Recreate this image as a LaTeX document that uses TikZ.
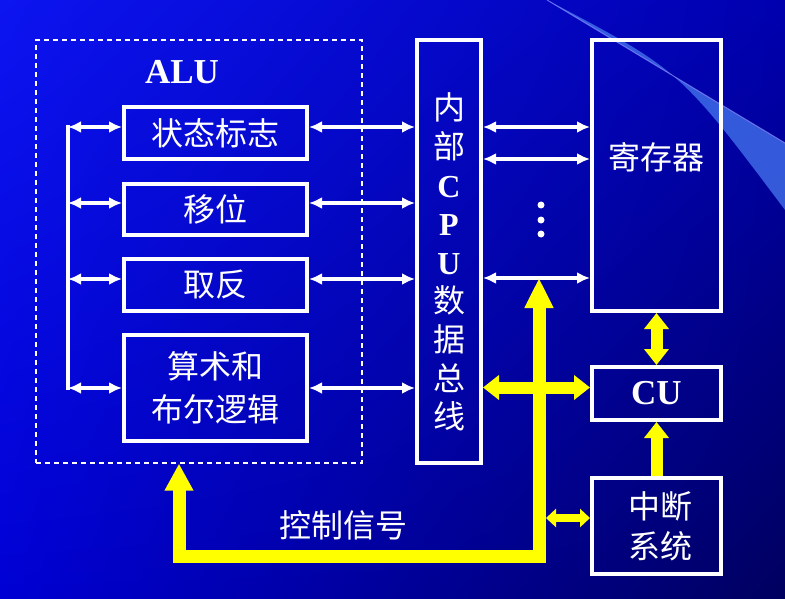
\documentclass[tikz,border=0pt]{standalone}
\usepackage{fontspec}
\setmainfont{Liberation Serif}
\newfontfamily\cjk{Noto Sans CJK SC}
\usetikzlibrary{arrows.meta,shadings}
\definecolor{bgul}{RGB}{12,20,240}
\definecolor{bgur}{RGB}{0,0,175}
\definecolor{bgll}{RGB}{0,0,212}
\definecolor{bglr}{RGB}{0,0,95}
\definecolor{streakc}{RGB}{70,120,240}
\definecolor{ylw}{RGB}{255,255,0}

\begin{document}
\begin{tikzpicture}[x=1pt,y=-1pt,line join=miter,
  box/.style={draw=white,line width=4pt,inner sep=0pt},
  zh/.style={text=white,font=\cjk\fontsize{32}{38.6}\selectfont},
  en/.style={text=white,font=\bfseries\fontsize{35}{40}\selectfont},
  wire/.style={draw=white,line width=3.5pt},
  warr/.style={wire,{Latex[length=13pt,width=12pt]}-{Latex[length=13pt,width=12pt]}},
  ybus/.style={draw=ylw,line width=13pt,{Triangle[length=27pt,width=27pt]}-{Triangle[length=30pt,width=27pt]}},
  ydbl/.style={draw=ylw,line width=12pt,{Triangle[length=16pt,width=24pt]}-{Triangle[length=16pt,width=24pt]}},
  yone/.style={draw=ylw,line width=12pt,-{Triangle[length=16pt,width=24pt]}},
  ysmall/.style={draw=ylw,line width=8pt,{Triangle[length=10pt,width=18pt]}-{Triangle[length=10pt,width=18pt]}},
]
%%
\useasboundingbox (0,0) rectangle (785,599);
\shade[upper left=bgul,upper right=bgur,lower left=bgll,lower right=bglr] (0,0) rectangle (785,599);
\fill[streakc,opacity=0.75] (547,0) -- (785,143) -- (785,210) .. controls (680,70) .. (547,0) -- cycle;
\draw[blue!40!white,opacity=0.6,line width=1pt] (547,0) -- (785,143);
%
\node (alu) at (199,251.5) [draw=white,dashed,line width=1.2pt,dash pattern=on 5pt off 4pt,minimum width=326pt,minimum height=423pt] {};
\node (alutxt) at (182,72) [en] {ALU};
\node (flag) at (215.5,133) [box,minimum width=183pt,minimum height=52pt,zh] {状态标志};
\node (shift) at (215.5,209.5) [box,minimum width=183pt,minimum height=51pt,zh] {移位};
\node (neg) at (215.5,285) [box,minimum width=183pt,minimum height=52pt,zh] {取反};
\node (arith) at (215.5,388) [box,minimum width=183pt,minimum height=106pt,zh,align=center,font=\cjk\fontsize{32}{43}\selectfont] {算术和\\布尔逻辑};
\node (bus) at (449,251.5) [box,minimum width=64pt,minimum height=423pt] {};
\node (bustxt) at (449,262) [zh,align=center] {内\\部\\{\rmfamily\bfseries\fontsize{32}{38.6}\selectfont C}\\{\rmfamily\bfseries\fontsize{32}{38.6}\selectfont P}\\{\rmfamily\bfseries\fontsize{32}{38.6}\selectfont U}\\数\\据\\总\\线};
\node (reg) at (656.5,175.5) [box,minimum width=129pt,minimum height=271pt] {};
\node (regtxt) at (656.5,157) [zh] {寄存器};
\node (cu) at (656.5,393.5) [box,minimum width=129pt,minimum height=53pt,en] {CU};
\node (intr) at (656.5,526) [box,minimum width=129pt,minimum height=96pt,zh,align=center,font=\cjk\fontsize{32}{40}\selectfont] {\hspace*{8pt}中断\\\hspace*{8pt}系统};
\node (ctltxt) at (343,525) [zh] {控制信号};
%
\coordinate (lt) at (68,125.5);
\coordinate (lb) at (68,389.5);
\coordinate (l1) at (68,127);
\coordinate (l2) at (68,203);
\coordinate (l3) at (68,279);
\coordinate (l4) at (68,388);
\draw [wire] (lt) -- (lb);
\foreach \n/\b in {l1/flag,l2/shift,l3/neg,l4/arith} {
  \draw [warr] (\n) -- (\n -| \b.west);
  \draw [warr] (\n -| \b.east) -- (\n -| bus.west);
}
\coordinate (r1) at (483,127);
\coordinate (r2) at (483,159);
\coordinate (r3) at (483,278);
\foreach \n in {r1,r2,r3}
  \draw [warr] (\n -| bus.east) -- (\n -| reg.west);
\foreach \y in {205,220,234}
  \fill [white] (541,\y) circle (3.5pt);
%
\coordinate (cl) at (179,556);
\coordinate (cr) at (539,556);
\draw [ybus] (cl |- alu.south) -- (cl) -- (cr) -- (cr |- r3);
\draw [ydbl] ([yshift=6pt]cu.west -| bus.east) -- ([yshift=6pt]cu.west);
\draw [ydbl] (reg.south) -- (cu.north);
\draw [yone] (intr.north) -- (cu.south);
\coordinate (ci) at (546,518);
\draw [ysmall] (ci) -- (ci -| intr.west);
%
\end{tikzpicture}
\end{document}
